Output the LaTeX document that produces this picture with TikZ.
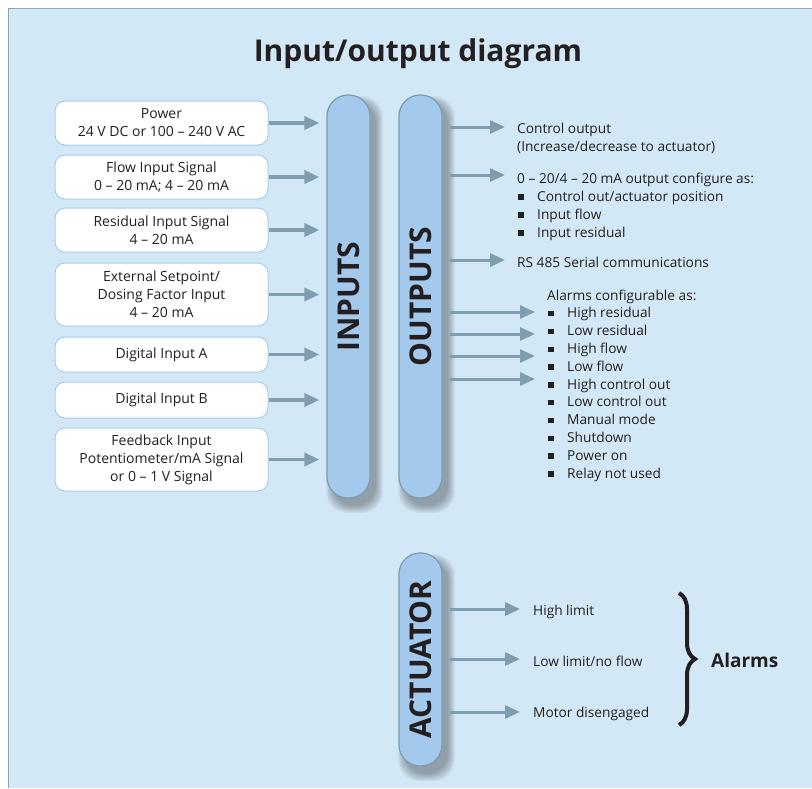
\documentclass[tikz,border=0pt]{standalone}
\usepackage{fontspec}
\setmainfont{Open Sans}
\usetikzlibrary{arrows.meta,decorations.pathreplacing}
\definecolor{bgblue}{HTML}{D3E8F6}
\definecolor{framecol}{HTML}{8CA6B9}
\definecolor{pillfill}{HTML}{A3C9EC}
\definecolor{pilldraw}{HTML}{7D9BB0}
\definecolor{boxdraw}{HTML}{A8CDEC}
\definecolor{arrcol}{HTML}{7F9DAF}
\definecolor{txt}{HTML}{231F20}
\newcommand{\bulletsq}{\makebox[20pt][l]{\hspace{1pt}\raisebox{0.1em}{\rule{5.5pt}{5.5pt}}}}
\newcommand{\pshadow}[4]{%
  \foreach \k in {0,...,7}{%
    \fill[black,opacity=0.045,rounded corners=21pt] (#1+6-\k,#2+8-\k) rectangle (#3+6+\k,#4+8+\k);}}
\tikzset{
  inbox/.style={draw=boxdraw, line width=1pt, fill=white, rounded corners=10pt,
    minimum width=213pt, align=center, inner sep=0pt, text=txt,
    font=\fontsize{14pt}{18pt}\selectfont},
  pillar/.style={draw=pilldraw, line width=1.2pt, fill=pillfill, rounded corners=21pt,
    minimum width=43pt, inner sep=0pt},
  pilltext/.style={font=\fontsize{30pt}{34pt}\selectfont\bfseries, text=txt, inner sep=0pt},
  lbl/.style={anchor=base west, inner sep=0pt, text=txt, font=\fontsize{13.7pt}{18pt}\selectfont},
  inarr/.style={draw=arrcol, line width=3.5pt, -{Triangle[length=15pt,width=13pt]}},
  outarr/.style={draw=arrcol, line width=3pt, -{Triangle[length=15pt,width=13pt]}},
}
\begin{document}
\begin{tikzpicture}[x=1pt,y=-1pt]
\useasboundingbox (0,0) rectangle (812,788);
\fill[bgblue] (8.5,8.5) rectangle (812,788);
\draw[framecol, line width=1.5pt] (8.5,788) -- (8.5,8.5) -- (812,8.5);

\node[anchor=base, inner sep=0pt, text=txt, font=\fontsize{30pt}{36pt}\selectfont\bfseries] (title) at (418,61) {Input/output diagram};

% shadows
\pshadow{327}{95}{370}{498}
\pshadow{399}{95}{442}{498}
\pshadow{399}{553}{442}{766}

% pillars
\node[pillar, minimum height=403pt] (inp) at (348.5,296.5) {};
\node[pilltext, rotate=90] (inpL) at (inp.center) {INPUTS};
\node[pillar, minimum height=403pt] (outp) at (420.5,296.5) {};
\node[pilltext, rotate=90] (outpL) at (outp.center) {OUTPUTS};
\node[pillar, minimum height=213pt] (act) at (420.5,659.5) {};
\node[pilltext, rotate=90] (actL) at (act.center) {ACTUATOR};

% input boxes
\node[inbox, minimum height=44pt] (b1) at (161.5,123) {Power\\24 V DC or 100 -- 240 V AC};
\node[inbox, minimum height=44pt] (b2) at (161.5,177) {Flow Input Signal\\0 -- 20 mA; 4 -- 20 mA};
\node[inbox, minimum height=44pt] (b3) at (161.5,230) {Residual Input Signal\\4 -- 20 mA};
\node[inbox, minimum height=63pt] (b4) at (161.5,294.5) {External Setpoint/\\Dosing Factor Input\\4 -- 20 mA};
\node[inbox, minimum height=35pt] (b5) at (161.5,354.5) {Digital Input A};
\node[inbox, minimum height=36pt] (b6) at (161.5,400) {Digital Input B};
\node[inbox, minimum height=63pt] (b7) at (161.5,459.5) {Feedback Input\\Potentiometer/mA Signal\\or 0 -- 1 V Signal};

\foreach \b in {b1,b2,b3,b4,b5,b6,b7}
  \draw[inarr, shorten >=7pt] (\b.east) -- (\b.east -| inp.west);

% output texts
\node[lbl] (o1a) at (517,133) {Control output};
\node[lbl] (o1b) at (517,151) {(Increase/decrease to actuator)};
\node[lbl] (o2) at (517,183) {0 -- 20/4 -- 20 mA output configure as:};
\node[lbl] (o2a) at (517,201) {\bulletsq Control out/actuator position};
\node[lbl] (o2b) at (517,219) {\bulletsq Input flow};
\node[lbl] (o2c) at (517,237) {\bulletsq Input residual};
\node[lbl] (o3) at (517,267) {RS 485 Serial communications};

\node[lbl] (al) at (547,300) {Alarms configurable as:};
\foreach \t [count=\i from 1] in {High residual,Low residual,High flow,Low flow,High control out,Low control out,Manual mode,Shutdown,Power on,Relay not used}
  \node[lbl] (al\i) at (547,300+17.8*\i) {\bulletsq \t};

% output arrows
\coordinate (e1) at (505,127);
\coordinate (e2) at (505,175);
\coordinate (e3) at (505,260);
\draw[outarr] (e1 -| outp.east) ++(7,0) -- (e1);
\draw[outarr] (e2 -| outp.east) ++(7,0) -- (e2);
\draw[outarr] (e3 -| outp.east) ++(7,0) -- (e3);
\foreach \yy [count=\i] in {312,334,356,379}{
  \coordinate (ea\i) at (535,\yy);
  \draw[outarr] (ea\i -| outp.east) ++(7,0) -- (ea\i);
}

% actuator
\node[lbl] (t1) at (533,615) {High limit};
\node[lbl] (t2) at (533,666) {Low limit/no flow};
\node[lbl] (t3) at (533,717) {Motor disengaged};
\foreach \yy [count=\i] in {609,659,712}{
  \coordinate (ec\i) at (520,\yy);
  \draw[outarr] (ec\i -| act.east) ++(7,0) -- (ec\i);
}

\coordinate (brT) at (679,593);
\coordinate (brB) at (679,725);
\draw[line width=4pt, txt, decorate, decoration={brace, amplitude=16pt}] (brT) -- (brB);
\node[anchor=base west, inner sep=0pt, text=txt, font=\fontsize{19pt}{24pt}\selectfont\bfseries] (alarms) at (711,667) {Alarms};
\end{tikzpicture}
\end{document}
